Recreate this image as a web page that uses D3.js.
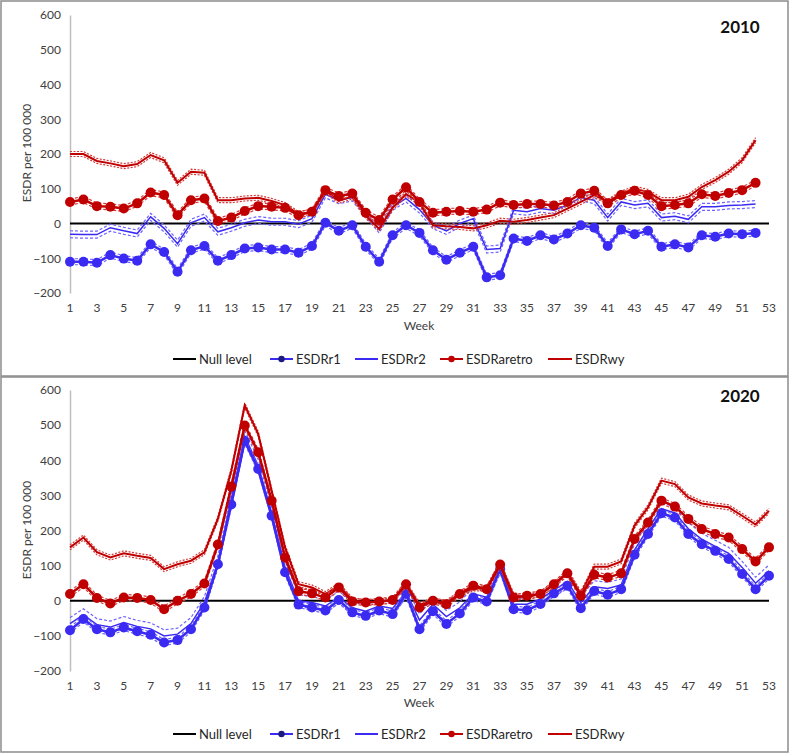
<!DOCTYPE html>
<html><head><meta charset="utf-8">
<script src="https://cdn.jsdelivr.net/npm/d3@7"></script>
<style>body{margin:0;background:#fff} text{font-family:Lato,"Noto Sans",sans-serif}</style>
</head><body><svg id="c" width="790" height="755"></svg>
<script>
// ---------- DATA ----------
const xTicks = [1,3,5,7,9,11,13,15,17,19,21,23,25,27,29,31,33,35,37,39,41,43,45,47,49,51,53];
const yTicks = [-200,-100,0,100,200,300,400,500,600];
const seriesNames = ["Null level","ESDRr1","ESDRr2","ESDRaretro","ESDRwy"];

// 2010 (weeks 1..52)
const r1_2010 = [-110,-110,-113,-91,-101,-107,-60,-82,-139,-77,-65,-107,-91,-72,-69,-75,-75,-84,-65,2,-21,-5,-67,-110,-34,-5,-27,-77,-104,-84,-67,-155,-149,-43,-50,-34,-46,-29,-5,-12,-65,-17,-31,-21,-67,-60,-69,-34,-38,-29,-31,-27];
const r2_2010 = [-31,-32,-32,-12,-21,-29,19,-14,-58,2,17,-24,-12,2,10,5,5,-2,14,84,67,75,29,-17,48,72,40,-5,-21,0,14,-75,-72,38,34,43,38,53,75,67,17,62,53,58,17,21,12,48,48,52,53,56];
const aretro_2010 = [62,69,50,48,43,58,89,82,24,67,72,7,17,36,50,48,45,24,34,96,79,86,31,10,69,104,62,31,34,36,34,40,60,53,56,56,52,62,86,94,58,82,94,82,50,53,58,84,79,88,96,117];
const wy_2010 = [200,200,180,173,165,171,197,182,117,149,146,67,67,72,74,65,53,27,34,95,65,78,22,-15,45,85,60,-5,-8,-10,-14,-5,8,5,10,17,24,43,62,82,62,86,100,91,67,67,77,105,125,149,182,240];

// 2020 (weeks 1..53)
const r1_2020 = [-84,-52,-81,-90,-76,-87,-97,-119,-112,-81,-19,104,274,455,375,242,81,-11,-19,-28,2,-33,-43,-28,-38,20,-81,-30,-66,-36,9,-2,90,-24,-27,-9,21,43,-21,28,17,33,131,190,249,237,190,161,142,119,76,33,71];
const r2_2020 = [-65,-40,-68,-75,-62,-73,-80,-100,-95,-65,-5,110,290,468,385,250,95,0,-5,-15,10,-20,-30,-15,-22,25,-55,-10,-45,-20,20,10,95,-10,-10,5,30,55,-5,40,35,45,145,205,262,250,205,175,155,135,95,50,85];
const aretro_2020 = [19,47,8,-8,9,8,2,-24,0,19,49,160,325,499,423,285,123,27,21,9,38,-2,-5,-2,2,47,-19,0,-10,19,43,33,103,9,14,19,47,78,14,74,66,78,176,223,285,268,233,204,190,180,147,112,152];
const wy_2020 = [152,180,138,123,135,128,122,90,104,114,138,233,370,556,475,313,152,47,38,19,43,2,-5,-2,0,47,-12,0,-5,20,35,35,105,15,10,20,45,82,20,97,97,112,214,266,342,332,294,277,271,266,242,217,256];

// ---------- STYLE / LAYOUT ----------
const BLUE = "#3b2bf2", BLUE_L = "#6f63ff", RED = "#c00000", RED_L = "#d43a3a";
const panels = [
  {title:"2010", box:[1,1,787,375], top:15, bottom:293, titleY:33, weekY:330, tickY:312, legendY:359, labelY:153,
   data:{r1:r1_2010, r2:r2_2010, aretro:aretro_2010, wy:wy_2010}, r2off:3.5},
  {title:"2020", box:[1,377,787,375], top:390, bottom:671, titleY:402, weekY:707, tickY:690, legendY:734, labelY:530,
   data:{r1:r1_2020, r2:r2_2020, aretro:aretro_2020, wy:wy_2020}, r2off:6}
];

const svg = d3.select("#c");
const x = d3.scaleLinear().domain([1,53]).range([70,769]);

panels.forEach(p => {
  const g = svg.append("g");
  g.append("rect").attr("x",p.box[0]).attr("y",p.box[1]).attr("width",p.box[2]).attr("height",p.box[3])
    .attr("fill","#fff").attr("stroke","#8c8c8c").attr("stroke-width",1.5);
  const y = d3.scaleLinear().domain([-200,600]).range([p.bottom,p.top]);

  // y axis
  const ya = g.append("g").attr("transform","translate(70,0)")
    .call(d3.axisLeft(y).tickValues(yTicks).tickSize(0).tickPadding(9).tickFormat(d3.format("d")));
  ya.select(".domain").attr("stroke","#bfbfbf").attr("stroke-width",1.5);
  ya.selectAll("text").attr("font-size",12).attr("fill","#404040").style("font-family","Lato");

  // x tick labels
  g.append("g").selectAll("text").data(xTicks).join("text")
    .attr("x",d=>x(d)).attr("y",p.tickY).attr("text-anchor","middle")
    .attr("font-size",12).attr("fill","#404040").text(d=>d);
  g.append("text").attr("x",419).attr("y",p.weekY).attr("text-anchor","middle")
    .attr("font-size",12).attr("fill","#404040").text("Week");
  g.append("text").attr("transform",`translate(31,${p.labelY}) rotate(-90)`).attr("text-anchor","middle")
    .attr("font-size",12).attr("fill","#404040").text("ESDR per 100 000");
  g.append("text").attr("x",740).attr("y",p.titleY).attr("text-anchor","middle")
    .attr("font-size",17).attr("font-weight","bold").attr("fill","#111").text(p.title);

  // null level
  g.append("line").attr("x1",x(1)).attr("x2",x(53)).attr("y1",y(0)).attr("y2",y(0))
    .attr("stroke","#000").attr("stroke-width",2);

  const line = d3.line().x((d,i)=>x(i+1)).y(d=>y(d));
  function draw(vals, color, bandColor, w, off, dash, marker) {
    [-off, off].forEach(o => g.append("path").attr("d",line(vals)).attr("transform",`translate(0,${o})`)
      .attr("fill","none").attr("stroke",bandColor).attr("stroke-width",1.2).attr("stroke-dasharray",dash));
    g.append("path").attr("d",line(vals)).attr("fill","none").attr("stroke",color).attr("stroke-width",w);
    if (marker) g.append("g").selectAll("circle").data(vals).join("circle")
      .attr("cx",(d,i)=>x(i+1)).attr("cy",d=>y(d)).attr("r",marker).attr("fill",color);
  }
  draw(p.data.r2, BLUE, BLUE_L, 1.5, p.r2off, "3,2", 0);
  draw(p.data.r1, BLUE, BLUE_L, 2.5, 3, "3,2", 5);
  draw(p.data.wy, RED, RED_L, 2, 2.5, "2,1.5", 0);
  draw(p.data.aretro, RED, RED_L, 2.5, 3, "3,2", 5);

  // legend
  const L = p.legendY;
  const items = [
    {name:seriesNames[0], x1:173, x2:196, c:"#000", m:null},
    {name:seriesNames[1], x1:270, x2:293, c:BLUE, m:"#1a1a80"},
    {name:seriesNames[2], x1:355, x2:378, c:BLUE, m:null},
    {name:seriesNames[3], x1:440, x2:463, c:RED, m:RED},
    {name:seriesNames[4], x1:548, x2:572, c:RED, m:null}
  ];
  items.forEach(it => {
    g.append("line").attr("x1",it.x1).attr("x2",it.x2).attr("y1",L).attr("y2",L).attr("stroke",it.c).attr("stroke-width",2);
    if (it.m) g.append("circle").attr("cx",(it.x1+it.x2)/2).attr("cy",L).attr("r",3.2).attr("fill",it.m);
    g.append("text").attr("x",it.x2+3).attr("y",L+4.5).attr("font-size",13).attr("fill","#262626").text(it.name);
  });
});
</script></body></html>
